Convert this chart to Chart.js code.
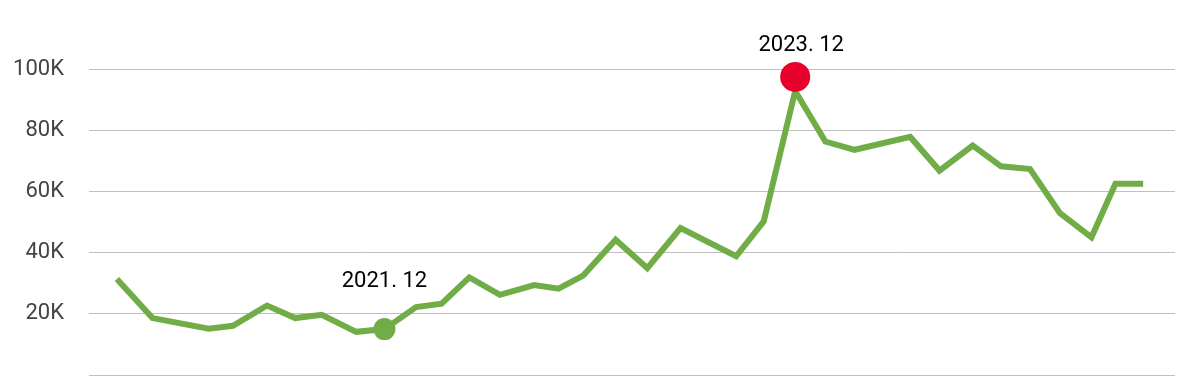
<!DOCTYPE html>
<html>
<head>
<meta charset="utf-8">
<script src="https://cdn.jsdelivr.net/npm/chart.js@4"></script>
<style>
  html, body { margin: 0; padding: 0; background: #fff; }
  canvas { display: block; }
</style>
</head>
<body>
<canvas id="priceChart" width="1190" height="390"></canvas>
<script>
// x = months since Jan 2020, y = price
const months = [
  7.37, 9.45, 12.74, 14.15, 16.14, 17.79, 19.34, 21.35, 23, 24.85,
  26.34, 27.96, 29.75, 31.75, 33.17, 34.61, 36.51, 38.36, 40.3, 43.55,
  45.16, 47, 48.76, 50.47, 53.72, 55.43, 57.37, 59.03, 60.72, 62.47,
  64.31, 65.71, 67.33
];
const prices = [
  31400, 18600, 15100, 16100, 22700, 18600, 19700, 14100, 15000, 22200,
  23300, 31900, 26200, 29400, 28200, 32500, 44200, 34900, 48000, 38800,
  50200, 92800, 76300, 73600, 77800, 66800, 75000, 68200, 67300, 52900,
  45000, 62500, 62500
];

const markerMonths = [23, 47];
const markerPrices = [15000, 97400];
const markerLabels = ["2021. 12", "2023. 12"];
const markerColors = ["#70ad47", "#e8002c"];
const markerSizes = [11, 15];

const yTicks = [0, 20000, 40000, 60000, 80000, 100000];

function tickLabel(value) {
  if (value === 0) return "";
  return value / 1000 + "K";
}

const markerText = {
  id: "markerText",
  afterDatasetsDraw(chart, args, opts) {
    const meta = chart.getDatasetMeta(0);
    const ctx = chart.ctx;
    ctx.save();
    ctx.font = "22px Roboto";
    ctx.fillStyle = "#000";
    ctx.textAlign = "center";
    ctx.textBaseline = "alphabetic";
    meta.data.forEach((pt, i) => {
      ctx.fillText(markerLabels[i], pt.x + opts.dx[i], pt.y - opts.dy[i]);
    });
    ctx.restore();
  }
};

Chart.defaults.font.family = "Roboto";

new Chart(document.getElementById("priceChart"), {
  type: "line",
  data: {
    datasets: [
      {
        label: "markers",
        data: markerMonths.map((m, i) => ({ x: m, y: markerPrices[i] })),
        showLine: false,
        pointRadius: markerSizes,
        pointBackgroundColor: markerColors,
        pointBorderWidth: 0,
        clip: false,
        order: 0
      },
      {
        label: "price",
        data: months.map((m, i) => ({ x: m, y: prices[i] })),
        borderColor: "#70ad47",
        borderWidth: 6,
        pointRadius: 0,
        tension: 0,
        order: 1
      }
    ]
  },
  options: {
    responsive: false,
    animation: false,
    events: [],
    layout: {
      padding: { left: 0, right: 13, top: 69, bottom: 15 }
    },
    plugins: {
      legend: { display: false },
      tooltip: { enabled: false },
      markerText: { dx: [0, 6], dy: [42, 26] }
    },
    scales: {
      x: {
        type: "linear",
        min: 5.74,
        max: 69.19,
        display: false
      },
      y: {
        min: 0,
        max: 100000,
        afterBuildTicks: (scale) => {
          scale.ticks = yTicks.map((v) => ({ value: v }));
        },
        afterFit: (scale) => {
          scale.width = 89;
          // don't let the tick padding push the plot area
          scale.paddingTop = 0;
          scale.paddingBottom = 0;
        },
        border: { display: false },
        grid: {
          color: "#bfbfbf",
          lineWidth: 1,
          drawTicks: false
        },
        ticks: {
          padding: 25,
          color: "#444444",
          font: { size: 22 },
          callback: tickLabel
        }
      }
    }
  },
  plugins: [markerText]
});
</script>
</body>
</html>
